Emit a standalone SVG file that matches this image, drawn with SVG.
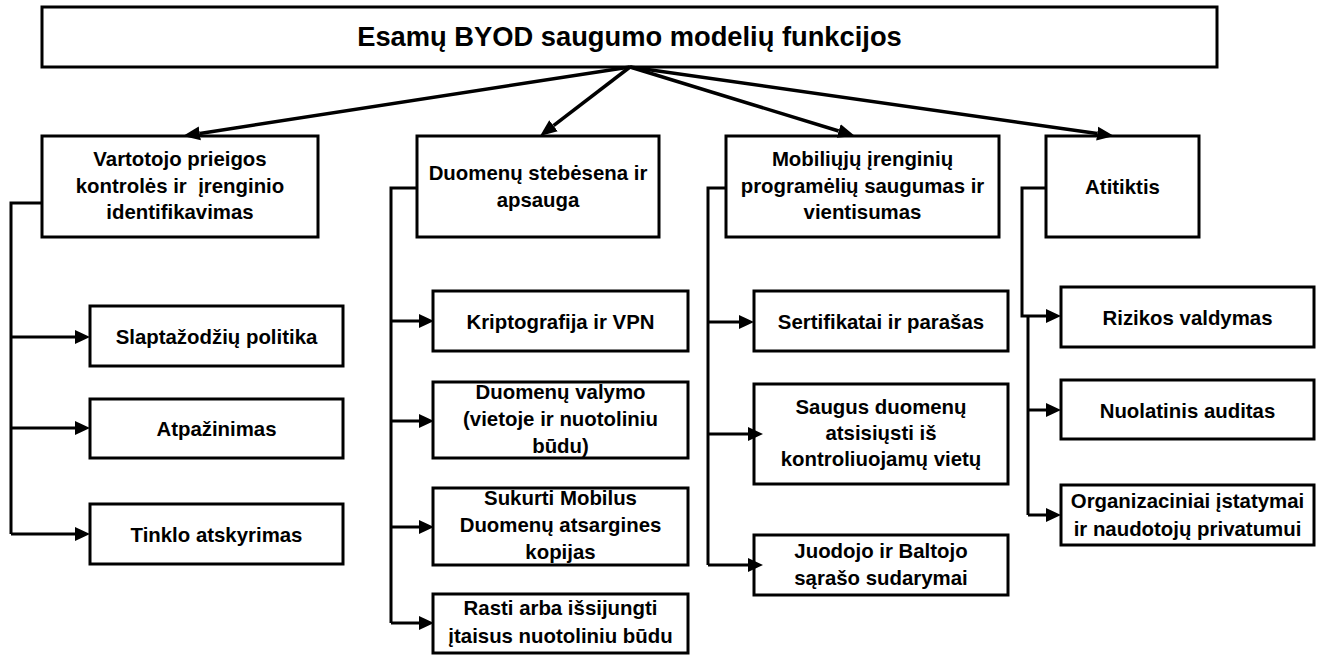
<svg xmlns="http://www.w3.org/2000/svg" width="1326" height="655" viewBox="0 0 1326 655">
<defs>
<style>
rect.b{fill:#fff;stroke:#000;stroke-width:3}
text{font-family:"Liberation Sans",Arial,sans-serif;font-weight:bold;font-size:20.4px;fill:#000;text-anchor:middle}
text.t{font-size:27.3px}
.c{fill:none;stroke:#000;stroke-width:3}
.d{fill:none;stroke:#000;stroke-width:3.5;marker-end:url(#ah)}
.a{marker-end:url(#as)}
</style>
<marker id="ah" markerUnits="userSpaceOnUse" viewBox="0 0 18 16" markerWidth="18" markerHeight="16" refX="0" refY="8" orient="auto"><path d="M0,1 L17,8 L0,15 z" fill="#000"/></marker>
<marker id="as" markerUnits="userSpaceOnUse" viewBox="0 0 16 16" markerWidth="16" markerHeight="16" refX="0" refY="8" orient="auto"><path d="M0,1 L15,8 L0,15 z" fill="#000"/></marker>
</defs>
<rect width="1326" height="655" fill="#fff"/>
<g id="title"><rect class="b" x="42" y="7" width="1175" height="60"/><text class="t" x="629.5" y="46">Esamų BYOD saugumo modelių funkcijos</text></g>
<g id="n1"><rect class="b" x="42" y="136" width="276" height="101"/><text x="180" xml:space="preserve"><tspan x="180" y="166">Vartotojo prieigos</tspan><tspan x="180" y="192.5">kontrolės ir  įrenginio</tspan><tspan x="180" y="219">identifikavimas</tspan></text></g>
<g id="n2"><rect class="b" x="417" y="136" width="242" height="101"/><text><tspan x="538" y="180">Duomenų stebėsena ir</tspan><tspan x="538" y="207">apsauga</tspan></text></g>
<g id="n3"><rect class="b" x="726" y="136" width="273" height="101"/><text><tspan x="862.5" y="166">Mobiliųjų įrenginių</tspan><tspan x="862.5" y="192.5">programėlių saugumas ir</tspan><tspan x="862.5" y="219">vientisumas</tspan></text></g>
<g id="n4"><rect class="b" x="1046" y="136" width="153" height="101"/><text x="1122.5" y="194">Atitiktis</text></g>
<g id="n1a"><rect class="b" x="90" y="306" width="253" height="60"/><text x="216.5" y="344">Slaptažodžių politika</text></g>
<g id="n1b"><rect class="b" x="90" y="399" width="253" height="59"/><text x="216.5" y="436">Atpažinimas</text></g>
<g id="n1c"><rect class="b" x="90" y="504" width="253" height="60"/><text x="216.5" y="541.5">Tinklo atskyrimas</text></g>
<g id="n2a"><rect class="b" x="433" y="291" width="255" height="60"/><text x="560.5" y="328.5">Kriptografija ir VPN</text></g>
<g id="n2b"><rect class="b" x="433" y="382" width="255" height="76"/><text><tspan x="560.5" y="399">Duomenų valymo</tspan><tspan x="560.5" y="426">(vietoje ir nuotoliniu</tspan><tspan x="560.5" y="453">būdu)</tspan></text></g>
<g id="n2c"><rect class="b" x="433" y="488" width="255" height="77"/><text><tspan x="560.5" y="505">Sukurti Mobilus</tspan><tspan x="560.5" y="532">Duomenų atsargines</tspan><tspan x="560.5" y="558.5">kopijas</tspan></text></g>
<g id="n2d"><rect class="b" x="433" y="594" width="255" height="59"/><text><tspan x="560.5" y="615">Rasti arba išsijungti</tspan><tspan x="560.5" y="643">įtaisus nuotoliniu būdu</tspan></text></g>
<g id="n3a"><rect class="b" x="754" y="291" width="254" height="60"/><text x="881" y="328.5">Sertifikatai ir parašas</text></g>
<g id="n3b"><rect class="b" x="754" y="384" width="254" height="100"/><text><tspan x="881" y="413.5">Saugus duomenų</tspan><tspan x="881" y="439.5">atsisiųsti iš</tspan><tspan x="881" y="466">kontroliuojamų vietų</tspan></text></g>
<g id="n3c"><rect class="b" x="754" y="535" width="254" height="60"/><text><tspan x="881" y="558">Juodojo ir Baltojo</tspan><tspan x="881" y="585">sąrašo sudarymai</tspan></text></g>
<g id="n4a"><rect class="b" x="1061" y="287" width="253" height="60"/><text x="1187.5" y="324.5">Rizikos valdymas</text></g>
<g id="n4b"><rect class="b" x="1061" y="380" width="253" height="59"/><text x="1187.5" y="417.5">Nuolatinis auditas</text></g>
<g id="n4c"><rect class="b" x="1061" y="485" width="253" height="60"/><text><tspan x="1187.5" y="508">Organizaciniai įstatymai</tspan><tspan x="1187.5" y="535.5">ir naudotojų privatumui</tspan></text></g>
<g id="connectors">
<path class="d" d="M630,67 L199.8,133.4"/>
<path class="d" d="M630,67 L553.5,125.7"/>
<path class="d" d="M630,67 L838.7,131"/>
<path class="d" d="M630,67 L1097.2,133.6"/>
<path class="c" d="M42,203 H11 V534"/>
<path class="c a" d="M11,337 H75"/>
<path class="c a" d="M11,428 H75"/>
<path class="c a" d="M11,534 H75"/>
<path class="c" d="M417,188 H391 V623"/>
<path class="c a" d="M391,321 H419"/>
<path class="c a" d="M391,421 H419"/>
<path class="c a" d="M391,527 H419"/>
<path class="c a" d="M391,623 H419"/>
<path class="c" d="M726,188 H708 V565"/>
<path class="c a" d="M708,322 H739"/>
<path class="c a" d="M708,434 H748"/>
<path class="c a" d="M708,565 H748"/>
<path class="c a" d="M1046,188 H1022 V316 H1046"/>
<path class="c" d="M1028,316 V515"/>
<path class="c a" d="M1028,410 H1046"/>
<path class="c a" d="M1028,515 H1046"/>
</g>
</svg>
